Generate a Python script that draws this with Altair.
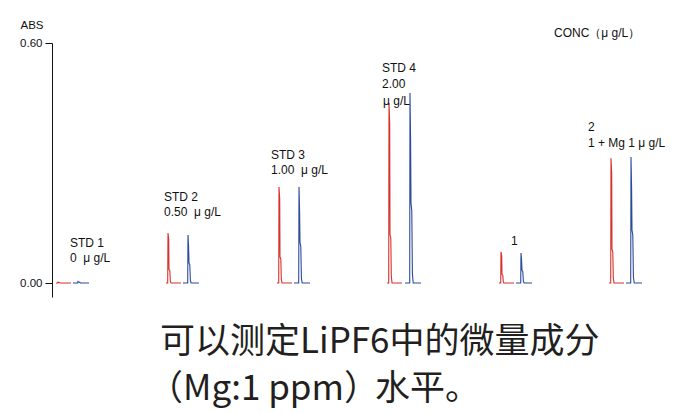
import altair as alt
import pandas as pd

# ---- data ----
samples = ["STD 1", "STD 2", "STD 3", "STD 4", "1", "2"]
red_center = [6, 116, 227, 337, 449, 559]      # time position of red peak
blue_center = [26, 136, 247, 358, 469, 579]    # time position of blue peak
red_height = [0.002, 0.125, 0.24, 0.45, 0.078, 0.312]
blue_height = [0.004, 0.12, 0.24, 0.475, 0.075, 0.315]

# peak profile (time offset, relative height)
red_offset = [-2, -0.3, 0, 0.7, 1.0, 1.8, 2.3, 3, 13]
red_rel = [0, 0, 1, 0.88, 0.27, 0.25, 0.04, 0, 0]
blue_offset = [-5, -0.3, 0, 0.6, 1.0, 1.8, 2.4, 3.2, 11]
blue_rel = [0, 0, 1, 0.75, 0.42, 0.38, 0.05, 0, 0]

NB = "\u00a0"
label_text = ["STD 1", "0" + NB * 2 + "μ" + NB + "g/L", "STD 2", "0.50" + NB * 2 + "μ" + NB + "g/L",
              "STD 3", "1.00" + NB * 2 + "μ" + NB + "g/L",
              "STD 4", "2.00", "μ" + NB + "g/L", "1", "2", "1 + Mg 1 μ" + NB + "g/L",
              "CONC（μ" + NB + "g/L）"]
label_t = [18, 18, 112, 112, 219, 219, 330, 330, 331, 459, 536, 536, 502]
label_abs = [0.1, 0.0625, 0.215, 0.1775, 0.32, 0.2825, 0.5375, 0.4975, 0.455,
             0.105, 0.39, 0.35, 0.625]

caption_line1 = "可以测定LiPF6中的微量成分"
caption_line2 = ["（Mg:1 ppm）", "水平。"]

rows = []
for s, rc, rh, bc, bh in zip(samples, red_center, red_height, blue_center, blue_height):
    for i, (o, r) in enumerate(zip(red_offset, red_rel)):
        rows.append({"t": rc + o, "abs": rh * r, "trace": s + "-r", "ch": "r", "i": i})
    for i, (o, r) in enumerate(zip(blue_offset, blue_rel)):
        rows.append({"t": bc + o, "abs": bh * r, "trace": s + "-b", "ch": "b", "i": i})
traces = pd.DataFrame(rows)

labels = pd.DataFrame({"t": label_t, "abs": label_abs, "text": label_text})

W, H = 608, 254
xscale = alt.Scale(domain=[0, W], nice=False, zero=False)
yscale = alt.Scale(domain=[-0.035, 0.6], nice=False, zero=False)

lines = alt.Chart(traces).mark_line(strokeWidth=1.1, clip=False).encode(
    x=alt.X("t:Q", scale=xscale, axis=None),
    y=alt.Y("abs:Q", scale=yscale,
            axis=alt.Axis(values=[0, 0.6], format=".2f", tickSize=7, grid=False,
                          domainColor="#111", tickColor="#111", labelColor="#111",
                          labelFont="Liberation Sans", labelFontSize=11.5, labelPadding=3,
                          labelFlush=False,
                          title="ABS", titleAngle=0, titleAlign="left", titleBaseline="middle",
                          titleX=-32, titleY=-18, titleFont="Liberation Sans",
                          titleFontSize=11.5, titleFontWeight="normal", titleColor="#111")),
    color=alt.Color("ch:N", scale=alt.Scale(domain=["r", "b"], range=["#d8302c", "#2c4a9c"]),
                    legend=None),
    detail="trace:N",
    order="i:Q",
)

texts = alt.Chart(labels).mark_text(align="left", baseline="middle", font="Liberation Sans",
                                    fontSize=12, color="#111").encode(
    x=alt.X("t:Q", scale=xscale),
    y=alt.Y("abs:Q", scale=yscale),
    text="text:N",
)

cap_style = dict(align="left", baseline="middle", font="Noto Sans CJK SC", fontSize=35,
                 color="#231f20")
cap1 = alt.Chart(pd.DataFrame({"text": [caption_line1]})).mark_text(**cap_style).encode(
    x=alt.value(108), y=alt.value(299), text="text:N")
cap2a = alt.Chart(pd.DataFrame({"text": [caption_line2[0]]})).mark_text(**cap_style).encode(
    x=alt.value(96), y=alt.value(346), text="text:N")
cap2b = alt.Chart(pd.DataFrame({"text": [caption_line2[1]]})).mark_text(**cap_style).encode(
    x=alt.value(323), y=alt.value(346), text="text:N")

chart = alt.layer(lines, texts, cap1, cap2a, cap2b).properties(
    width=W, height=H,
    autosize=alt.AutoSizeParams(type="none"),
    padding={"left": 44, "top": 35, "right": 20, "bottom": 112},
).configure(background="white").configure_view(stroke=None)

chart.save("out.html", embed_options={"renderer": "svg", "actions": False})
